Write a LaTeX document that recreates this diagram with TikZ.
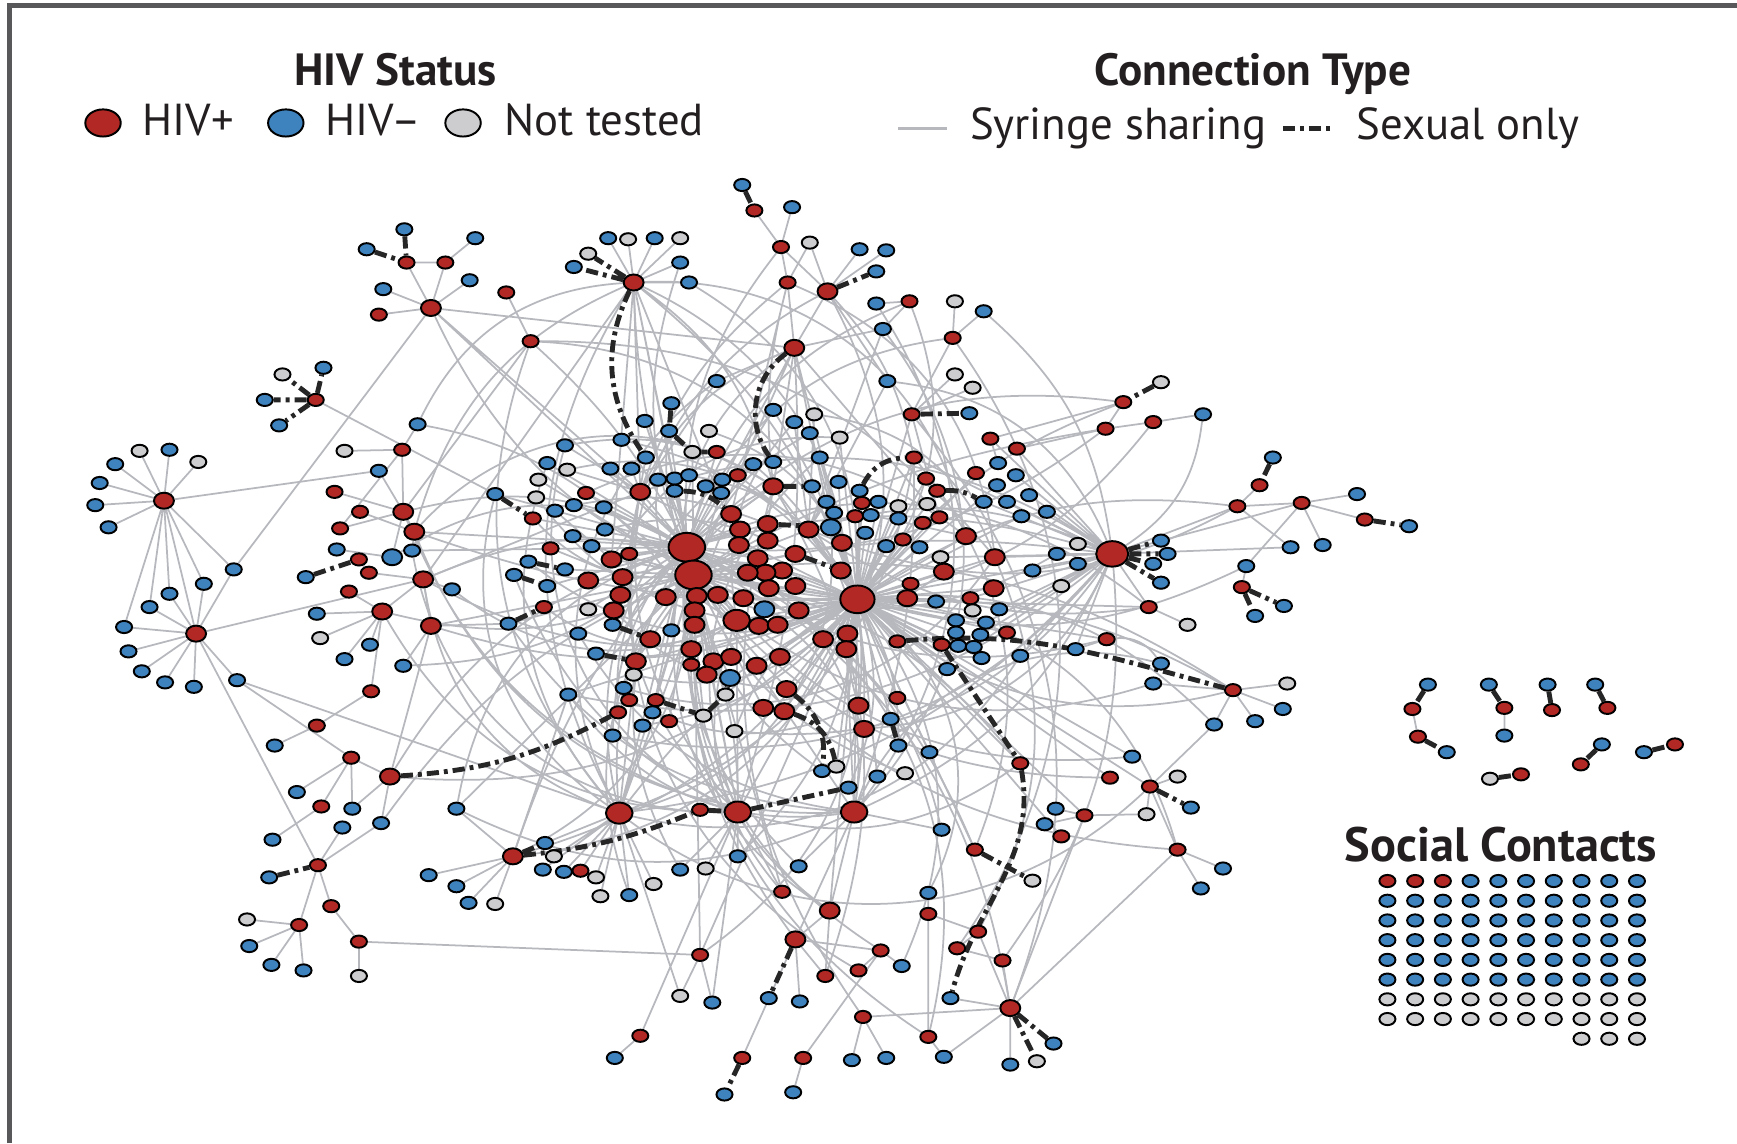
\documentclass[tikz,border=0pt]{standalone}
\usepackage{fontspec}
\setmainfont{PT Sans}
\usetikzlibrary{shapes.geometric}

\definecolor{hivred}{RGB}{178,40,36}
\definecolor{hivblue}{RGB}{62,130,190}
\definecolor{hivgray}{RGB}{205,205,207}
\definecolor{syrgray}{RGB}{182,184,190}
\definecolor{sexblack}{RGB}{38,38,38}
\definecolor{framegray}{RGB}{88,88,90}
\definecolor{inkblack}{RGB}{35,31,32}

\pgfdeclarelayer{edges}
\pgfsetlayers{edges,main}

\begin{document}
\begin{tikzpicture}[x=0.1mm, y=-0.1mm,
  netdot/.style={ellipse, draw=black, line width=0.5pt, inner sep=0pt, minimum width=1.45mm, minimum height=1.1mm},
  hivpos/.style={netdot, fill=hivred},
  hivneg/.style={netdot, fill=hivblue},
  hivunk/.style={netdot, fill=hivgray},
  medhub/.style={minimum width=1.8mm, minimum height=1.45mm},
  bighub/.style={minimum width=2.4mm, minimum height=1.9mm},
  tophub/.style={minimum width=3.3mm, minimum height=2.6mm},
  keydot/.style={minimum width=3.2mm, minimum height=2.45mm},
  syrline/.style={draw=syrgray, line width=0.45pt},
  sexline/.style={draw=sexblack, line width=1.25pt, dash pattern=on 1.1mm off 0.45mm on 0.35mm off 0.45mm},
  keytitle/.style={font=\fontsize{11.6}{13}\selectfont\bfseries, text=inkblack, anchor=base, inner sep=0pt},
  keytext/.style={font=\fontsize{11.5}{13}\selectfont, text=inkblack, anchor=base west, inner sep=0pt}]

\useasboundingbox (0,0) rectangle (1568,1032);
\draw[framegray, line width=0.4mm] (8.7,1032) -- (8.7,5) -- (1568,5);

% legend
\node[keytitle] (hivtitle) at (357,77) {HIV Status};
\node[hivpos, keydot] (keypos) at (93,111) {};
\node[keytext] (keyposlbl) at (128,122) {HIV+};
\node[hivneg, keydot] (keyneg) at (258,111) {};
\node[keytext] (keyneglbl) at (293,122) {HIV–};
\node[hivunk, keydot] (keyunk) at (418,111) {};
\node[keytext] (keyunklbl) at (455,122) {Not tested};
\node[keytitle] (contitle) at (1131,77) {Connection Type};
\coordinate (keysyrA) at (811,116);
\coordinate (keysyrB) at (855,116);
\node[keytext] (keysyrlbl) at (875,126) {Syringe sharing};
\coordinate (keysexA) at (1158,116);
\coordinate (keysexB) at (1201,116);
\node[keytext] (keysexlbl) at (1224,126) {Sexual only};

% top clusters
\node[hivneg] (t1) at (670,167) {};
\node[hivpos] (t2) at (681,190) {};
\node[hivneg] (t3) at (715,187) {};
\node[hivpos] (t4) at (705,223) {};
\node[hivunk] (t5) at (731,219) {};
\node[hivpos] (t6) at (711,255) {};
\node[hivpos, medhub] (t7) at (747,263) {};
\node[hivneg] (t8) at (776,225) {};
\node[hivneg] (t9) at (800,226) {};
\node[hivneg] (t10) at (791,245) {};
\node[hivneg] (t11) at (791,274) {};
\node[hivpos] (t12) at (821,272) {};
\node[hivunk] (t13) at (862,272) {};
\node[hivneg] (t14) at (888,281) {};
\node[hivneg] (t15) at (797,297) {};
\node[hivpos] (t16) at (860,305) {};
\node[hivpos, medhub] (t17) at (717,314) {};
\node[hivneg] (t18) at (647,344) {};
\node[hivneg] (t19) at (801,344) {};
\node[hivunk] (t20) at (862,338) {};
\node[hivunk] (t21) at (878,350) {};
\node[hivpos] (t22) at (823,374) {};
\node[hivneg] (t23) at (875,373) {};
\node[hivpos] (t24) at (998,387) {};
\node[hivpos] (t25) at (1014,363) {};
\node[hivunk] (t26) at (1048,345) {};
\node[hivpos] (t27) at (1041,381) {};
\node[hivneg] (t28) at (1086,374) {};

\node[hivpos, medhub] (e0) at (572,255) {};
\node[hivneg] (e1) at (549,215) {};
\node[hivunk] (e2) at (567,216) {};
\node[hivneg] (e3) at (591,215) {};
\node[hivunk] (e4) at (614,215) {};
\node[hivunk] (e5) at (531,229) {};
\node[hivneg] (e6) at (518,241) {};
\node[hivneg] (e7) at (614,237) {};
\node[hivneg] (e8) at (622,255) {};

\node[hivpos, medhub] (a0) at (389,278) {};
\node[hivneg] (a1) at (365,207) {};
\node[hivneg] (a2) at (331,225) {};
\node[hivpos] (a3) at (367,237) {};
\node[hivpos] (a4) at (402,237) {};
\node[hivneg] (a5) at (429,215) {};
\node[hivneg] (a6) at (346,261) {};
\node[hivneg] (a7) at (424,253) {};
\node[hivpos] (a8) at (342,284) {};
\node[hivpos] (a9) at (457,264) {};
\node[hivpos] (a10) at (479,308) {};

\node[hivpos] (b0) at (285,361) {};
\node[hivunk] (b1) at (255,338) {};
\node[hivneg] (b2) at (292,332) {};
\node[hivneg] (b3) at (239,361) {};
\node[hivneg] (b4) at (252,384) {};

% left stars
\node[hivpos, medhub] (c0) at (148,452) {};
\node[hivunk] (c1) at (126,407) {};
\node[hivneg] (c2) at (153,406) {};
\node[hivunk] (c3) at (179,417) {};
\node[hivneg] (c4) at (104,419) {};
\node[hivneg] (c5) at (90,436) {};
\node[hivneg] (c6) at (86,456) {};
\node[hivneg] (c7) at (98,476) {};

\node[hivpos, medhub] (d0) at (177,572) {};
\node[hivneg] (d1) at (112,566) {};
\node[hivneg] (d2) at (116,588) {};
\node[hivneg] (d3) at (128,606) {};
\node[hivneg] (d4) at (149,616) {};
\node[hivneg] (d5) at (175,620) {};
\node[hivneg] (d6) at (135,548) {};
\node[hivneg] (d7) at (153,536) {};
\node[hivneg] (d8) at (184,527) {};
\node[hivneg] (d9) at (211,514) {};
\node[hivneg] (d10) at (214,614) {};

\node[hivneg] (l1) at (377,383) {};
\node[hivunk] (l2) at (311,407) {};
\node[hivpos] (l3) at (363,406) {};
\node[hivneg] (l4) at (342,425) {};
\node[hivpos] (l5) at (302,444) {};
\node[hivpos] (l6) at (325,462) {};
\node[hivpos, medhub] (l7) at (364,462) {};
\node[hivpos, medhub] (l8) at (374,480) {};
\node[hivpos] (l9) at (307,477) {};
\node[hivneg] (l10) at (304,496) {};
\node[hivpos] (l11) at (324,505) {};
\node[hivneg, medhub] (l12) at (354,503) {};
\node[hivneg] (l13) at (372,497) {};
\node[hivpos] (l14) at (333,517) {};
\node[hivneg] (l15) at (276,521) {};
\node[hivpos, medhub] (l16) at (382,523) {};
\node[hivpos] (l17) at (315,534) {};
\node[hivneg] (l18) at (408,532) {};
\node[hivpos, medhub] (l19) at (345,552) {};
\node[hivneg] (l20) at (286,554) {};
\node[hivunk] (l21) at (289,576) {};
\node[hivneg] (l22) at (334,582) {};
\node[hivneg] (l23) at (311,595) {};
\node[hivneg] (l24) at (364,601) {};
\node[hivpos, medhub] (l25) at (389,565) {};
\node[hivpos] (l26) at (335,624) {};

% core, left half
\node[hivneg] (m1) at (510,402) {};
\node[hivneg] (m2) at (494,418) {};
\node[hivunk] (m3) at (512,424) {};
\node[hivunk] (m4) at (486,433) {};
\node[hivunk] (m5) at (484,449) {};
\node[hivneg] (m6) at (447,446) {};
\node[hivneg] (m7) at (501,461) {};
\node[hivneg] (m8) at (518,456) {};
\node[hivpos] (m9) at (481,468) {};
\node[hivneg] (m10) at (517,484) {};
\node[hivpos] (m11) at (497,495) {};
\node[hivneg] (m12) at (477,507) {};
\node[hivneg] (m13) at (510,514) {};
\node[hivneg] (m14) at (464,519) {};
\node[hivneg] (m15) at (494,529) {};
\node[hivpos] (m16) at (491,548) {};
\node[hivneg] (m17) at (459,563) {};
\node[hivunk] (m18) at (531,550) {};
\node[hivneg] (m19) at (522,572) {};
\node[hivneg] (m20) at (513,627) {};
\node[hivneg] (m21) at (545,458) {};
\node[hivneg] (m22) at (546,478) {};
\node[hivneg] (m23) at (534,493) {};
\node[hivpos] (m24) at (529,445) {};
\node[hivneg] (m25) at (551,423) {};
\node[hivneg] (m26) at (570,423) {};
\node[hivneg] (m27) at (561,397) {};
\node[hivneg] (m28) at (582,380) {};
\node[hivneg] (m29) at (606,364) {};
\node[hivneg] (m30) at (604,389) {};
\node[hivneg] (m31) at (583,413) {};
\node[hivunk] (m32) at (640,389) {};
\node[hivunk] (m33) at (625,408) {};
\node[hivpos] (m34) at (647,408) {};
\node[hivpos, medhub] (m35) at (578,444) {};
\node[hivneg] (m36) at (594,433) {};
\node[hivneg] (m37) at (609,432) {};
\node[hivneg] (m38) at (622,429) {};
\node[hivneg] (m39) at (609,443) {};
\node[hivneg] (m40) at (637,439) {};
\node[hivneg] (m41) at (652,433) {};
\node[hivneg] (m42) at (651,445) {};
\node[hivpos] (m43) at (666,429) {};
\node[hivpos] (m44) at (568,500) {};
\node[hivpos, medhub] (m45) at (552,505) {};
\node[hivpos, medhub] (m46) at (531,524) {};
\node[hivpos, medhub] (m47) at (562,521) {};
\node[hivpos, medhub] (m48) at (560,537) {};
\node[hivpos, medhub] (m49) at (554,551) {};
\node[hivpos, medhub] (m50) at (601,539) {};
\node[hivneg] (m51) at (553,564) {};
\node[hivneg] (m52) at (538,590) {};
\node[hivpos, medhub] (m53) at (574,597) {};
\node[hivunk] (m54) at (572,609) {};
\node[hivpos, medhub] (m55) at (587,577) {};
\node[hivneg] (m56) at (606,569) {};
\node[hivneg] (m57) at (563,621) {};
\node[hivpos] (m58) at (568,632) {};
\node[hivpos] (m59) at (592,632) {};
\node[hivpos] (m60) at (558,643) {};
\node[hivneg] (m61) at (589,643) {};
\node[hivneg] (m62) at (580,655) {};
\node[hivpos] (m63) at (604,651) {};
\node[hivneg] (m64) at (553,664) {};

% core, middle
\node[hivneg] (n1) at (698,370) {};
\node[hivneg] (n2) at (717,381) {};
\node[hivunk] (n3) at (735,374) {};
\node[hivneg] (n4) at (731,391) {};
\node[hivunk] (n5) at (758,395) {};
\node[hivneg] (n6) at (680,419) {};
\node[hivneg] (n7) at (698,417) {};
\node[hivneg] (n8) at (740,413) {};
\node[hivpos, medhub] (n9) at (698,439) {};
\node[hivneg] (n10) at (733,439) {};
\node[hivneg] (n11) at (757,435) {};
\node[hivneg] (n12) at (776,443) {};
\node[hivneg] (n13) at (793,453) {};
\node[hivpos] (n14) at (778,454) {};
\node[hivneg] (n15) at (746,453) {};
\node[hivneg] (n16) at (753,463) {};
\node[hivneg, medhub] (n17) at (750,476) {};
\node[hivpos] (n18) at (772,466) {};
\node[hivneg] (n19) at (786,465) {};
\node[hivneg] (n20) at (781,481) {};
\node[hivpos, medhub] (n21) at (660,464) {};
\node[hivpos, medhub] (n22) at (668,478) {};
\node[hivpos, medhub] (n23) at (667,492) {};
\node[hivpos, medhub] (n24) at (693,473) {};
\node[hivpos, medhub] (n25) at (693,488) {};
\node[hivpos, medhub] (n26) at (730,478) {};
\node[hivpos, medhub] (n27) at (760,490) {};
\node[hivpos, medhub] (n28) at (718,500) {};
\node[hivpos, medhub] (n29) at (684,504) {};
\node[hivpos, tophub] (n30) at (620,494) {};
\node[hivpos, tophub] (n31) at (626,519) {};
\node[hivpos, medhub] (n32) at (706,515) {};
\node[hivpos, medhub] (n33) at (691,517) {};
\node[hivpos, medhub] (n34) at (675,517) {};
\node[hivpos, medhub] (n35) at (718,529) {};
\node[hivpos, medhub] (n36) at (694,531) {};
\node[hivpos, medhub] (n37) at (759,515) {};
\node[hivpos, tophub, minimum width=3.1mm, minimum height=2.5mm] (n38) at (774,541) {};
\node[hivpos, medhub] (n39) at (629,538) {};
\node[hivpos, medhub] (n40) at (648,537) {};
\node[hivpos, medhub] (n41) at (671,540) {};
\node[hivneg, medhub] (n42) at (690,550) {};
\node[hivpos, medhub] (n43) at (721,551) {};
\node[hivpos, medhub] (n44) at (627,551) {};
\node[hivpos, medhub] (n45) at (627,564) {};
\node[hivpos, bighub] (n46) at (665,560) {};
\node[hivpos, medhub] (n47) at (685,565) {};
\node[hivpos, medhub] (n48) at (702,564) {};
\node[hivpos, medhub] (n49) at (743,577) {};
\node[hivpos, medhub] (n50) at (765,572) {};
\node[hivpos, medhub] (n51) at (764,586) {};
\node[hivpos, medhub] (n52) at (624,586) {};
\node[hivpos] (n53) at (624,600) {};
\node[hivpos, medhub] (n54) at (644,597) {};
\node[hivpos, medhub] (n55) at (660,593) {};
\node[hivpos, medhub] (n56) at (638,609) {};
\node[hivneg, medhub] (n57) at (659,612) {};
\node[hivpos, medhub] (n58) at (683,601) {};
\node[hivpos, medhub] (n59) at (704,593) {};
\node[hivunk] (n60) at (655,627) {};
\node[hivunk] (n61) at (635,646) {};
\node[hivunk] (n62) at (663,660) {};
\node[hivpos, medhub] (n63) at (710,622) {};
\node[hivpos, medhub] (n64) at (689,639) {};
\node[hivpos, medhub] (n65) at (708,642) {};
\node[hivpos, medhub] (n66) at (775,637) {};
\node[hivpos] (n67) at (810,630) {};
\node[hivpos, medhub] (n68) at (780,658) {};
\node[hivneg] (n69) at (804,649) {};
\node[hivneg] (n70) at (811,673) {};
\node[hivneg] (n71) at (839,679) {};
\node[hivneg] (n72) at (742,696) {};
\node[hivunk] (n73) at (755,692) {};
\node[hivneg] (n74) at (766,711) {};
\node[hivneg] (n75) at (792,701) {};
\node[hivunk] (n76) at (817,698) {};

% core, right half
\node[hivpos] (r1) at (825,413) {};
\node[hivpos] (r2) at (894,396) {};
\node[hivpos] (r3) at (918,405) {};
\node[hivpos] (r4) at (836,432) {};
\node[hivpos] (r5) at (846,443) {};
\node[hivunk] (r6) at (837,455) {};
\node[hivunk] (r7) at (811,457) {};
\node[hivpos] (r8) at (848,467) {};
\node[hivpos] (r9) at (833,472) {};
\node[hivneg] (r10) at (811,468) {};
\node[hivneg] (r11) at (888,453) {};
\node[hivneg] (r12) at (909,453) {};
\node[hivneg] (r13) at (929,447) {};
\node[hivneg] (r14) at (901,418) {};
\node[hivneg] (r15) at (917,429) {};
\node[hivneg] (r16) at (900,438) {};
\node[hivpos] (r17) at (881,427) {};
\node[hivneg] (r18) at (945,462) {};
\node[hivneg] (r19) at (922,466) {};
\node[hivpos, medhub] (r20) at (872,484) {};
\node[hivpos] (r21) at (815,487) {};
\node[hivneg] (r22) at (800,493) {};
\node[hivneg] (r23) at (830,494) {};
\node[hivunk] (r24) at (849,503) {};
\node[hivpos, medhub] (r25) at (898,503) {};
\node[hivpos, medhub] (r26) at (852,516) {};
\node[hivneg] (r27) at (932,515) {};
\node[hivneg] (r28) at (954,500) {};
\node[hivneg] (r29) at (973,509) {};
\node[hivunk] (r30) at (973,491) {};
\node[hivunk] (r31) at (958,529) {};
\node[hivpos, medhub] (r32) at (897,531) {};
\node[hivpos] (r33) at (822,527) {};
\node[hivpos, medhub] (r34) at (819,540) {};
\node[hivneg] (r35) at (845,543) {};
\node[hivpos] (r36) at (876,540) {};
\node[hivunk] (r37) at (878,551) {};
\node[hivneg] (r38) at (902,550) {};
\node[hivneg] (r39) at (863,560) {};
\node[hivneg] (r40) at (890,562) {};
\node[hivneg] (r41) at (863,571) {};
\node[hivneg] (r42) at (885,573) {};
\node[hivpos] (r43) at (909,571) {};
\node[hivpos] (r44) at (850,582) {};
\node[hivneg] (r45) at (865,583) {};
\node[hivneg] (r46) at (879,584) {};
\node[hivneg] (r47) at (886,594) {};
\node[hivneg] (r48) at (921,592) {};
\node[hivneg] (r49) at (855,604) {};
\node[hivneg] (r50) at (971,586) {};
\node[hivpos] (r51) at (810,579) {};
\node[hivpos] (r52) at (921,689) {};

% right side
\node[hivpos, tophub, minimum width=2.9mm, minimum height=2.3mm] (g0) at (1004,500) {};
\node[hivneg] (g1) at (1048,488) {};
\node[hivneg] (g2) at (1054,500) {};
\node[hivneg] (g3) at (1041,509) {};
\node[hivneg] (g4) at (1048,526) {};
\node[hivpos] (g6) at (1117,457) {};
\node[hivpos] (g7) at (1137,438) {};
\node[hivneg] (g8) at (1149,413) {};
\node[hivpos] (g9) at (1175,454) {};
\node[hivneg] (g10) at (1225,446) {};
\node[hivpos] (g11) at (1232,469) {};
\node[hivneg] (g12) at (1272,475) {};
\node[hivneg] (g13) at (1165,494) {};
\node[hivneg] (g14) at (1194,492) {};
\node[hivneg] (g15) at (1125,511) {};
\node[hivpos] (g16) at (1121,530) {};
\node[hivneg] (g17) at (1159,547) {};
\node[hivneg] (g18) at (1133,556) {};
\node[hivpos] (g19) at (1037,548) {};
\node[hivunk] (g20) at (1072,564) {};
\node[hivpos] (g21) at (999,577) {};
\node[hivneg] (g23) at (1048,599) {};
\node[hivneg] (g24) at (1041,617) {};
\node[hivpos] (g25) at (1113,623) {};
\node[hivunk] (g26) at (1162,617) {};
\node[hivneg] (g27) at (1158,640) {};
\node[hivneg] (g28) at (1133,651) {};
\node[hivneg] (g29) at (1096,654) {};
\node[hivneg] (g30) at (1022,683) {};
\node[hivpos] (g31) at (1002,702) {};
\node[hivpos] (g32) at (1038,710) {};
\node[hivunk] (g33) at (1063,701) {};
\node[hivneg] (g34) at (1075,729) {};
\node[hivunk] (g35) at (1035,735) {};
\node[hivpos] (g36) at (979,736) {};
\node[hivpos] (g37) at (958,755) {};
\node[hivpos] (g38) at (1063,767) {};
\node[hivneg] (g39) at (1104,784) {};
\node[hivneg] (g40) at (1084,802) {};
\node[hivneg] (g41) at (953,730) {};
\node[hivneg] (g42) at (943,744) {};

% bottom
\node[hivpos, bighub] (s1) at (559,734) {};
\node[hivpos] (s2) at (632,731) {};
\node[hivpos, bighub] (s3) at (666,733) {};
\node[hivpos, bighub] (s4) at (771,733) {};
\node[hivneg] (s5) at (492,761) {};
\node[hivunk] (s6) at (500,773) {};
\node[hivneg] (s7) at (490,785) {};
\node[hivneg] (s8) at (509,787) {};
\node[hivpos] (s9) at (524,786) {};
\node[hivunk] (s10) at (538,792) {};
\node[hivunk] (s11) at (542,809) {};
\node[hivneg] (s12) at (568,808) {};
\node[hivunk] (s13) at (590,798) {};
\node[hivneg] (s14) at (614,785) {};
\node[hivunk] (s15) at (637,784) {};
\node[hivneg] (s16) at (666,773) {};
\node[hivneg] (s17) at (721,782) {};
\node[hivpos] (s18) at (706,805) {};
\node[hivpos, medhub] (s19) at (749,822) {};
\node[hivpos, medhub] (s20) at (718,848) {};
\node[hivpos] (s21) at (632,862) {};
\node[hivunk] (s22) at (614,899) {};
\node[hivneg] (s23) at (643,905) {};
\node[hivneg] (s24) at (694,901) {};
\node[hivneg] (s25) at (722,904) {};
\node[hivpos] (s26) at (745,881) {};
\node[hivpos] (s27) at (775,876) {};
\node[hivpos] (s28) at (795,858) {};
\node[hivneg] (s29) at (814,872) {};
\node[hivneg] (s30) at (850,749) {};
\node[hivneg] (s31) at (838,806) {};
\node[hivpos] (s32) at (838,825) {};
\node[hivpos] (s33) at (880,767) {};
\node[hivunk] (s34) at (932,795) {};
\node[hivpos] (s35) at (883,841) {};
\node[hivpos] (s36) at (864,856) {};
\node[hivpos] (s37) at (905,867) {};
\node[hivneg] (s38) at (858,901) {};
\node[hivpos, medhub] (s39) at (912,910) {};
\node[hivneg] (s40) at (951,942) {};
\node[hivunk] (s41) at (936,958) {};
\node[hivneg] (s42) at (912,961) {};
\node[hivpos] (s43) at (779,918) {};
\node[hivneg] (s44) at (769,957) {};
\node[hivneg] (s45) at (800,955) {};
\node[hivpos] (s46) at (838,936) {};
\node[hivneg] (s47) at (852,954) {};
\node[hivpos] (s48) at (578,935) {};
\node[hivneg] (s49) at (555,955) {};
\node[hivpos] (s50) at (670,955) {};
\node[hivneg] (s51) at (654,988) {};
\node[hivpos] (s52) at (725,955) {};
\node[hivneg] (s53) at (716,986) {};

% bottom left
\node[hivpos, medhub] (w1) at (463,773) {};
\node[hivneg] (w2) at (387,790) {};
\node[hivneg] (w3) at (412,800) {};
\node[hivneg] (w4) at (423,815) {};
\node[hivunk] (w5) at (447,816) {};
\node[hivneg] (w6) at (412,730) {};
\node[hivpos] (w7) at (286,655) {};
\node[hivneg] (w8) at (248,673) {};
\node[hivpos] (w9) at (317,684) {};
\node[hivpos, medhub] (w10) at (352,701) {};
\node[hivneg] (w11) at (268,715) {};
\node[hivpos] (w12) at (290,728) {};
\node[hivneg] (w13) at (318,730) {};
\node[hivneg] (w14) at (309,747) {};
\node[hivneg] (w15) at (344,743) {};
\node[hivneg] (w16) at (246,758) {};
\node[hivpos] (w17) at (287,781) {};
\node[hivneg] (w18) at (243,792) {};
\node[hivpos] (w19) at (299,818) {};
\node[hivpos] (w20) at (270,835) {};
\node[hivunk] (w21) at (223,830) {};
\node[hivneg] (w22) at (225,854) {};
\node[hivneg] (w23) at (245,871) {};
\node[hivneg] (w24) at (274,876) {};
\node[hivpos] (w25) at (324,850) {};
\node[hivunk] (w26) at (324,881) {};

% pairs outside the main component
\node[hivneg] (q1) at (1289,618) {};
\node[hivpos] (q2) at (1275,640) {};
\node[hivpos] (q3) at (1280,665) {};
\node[hivneg] (q4) at (1306,679) {};
\node[hivneg] (q5) at (1344,618) {};
\node[hivpos] (q6) at (1358,639) {};
\node[hivneg] (q7) at (1358,664) {};
\node[hivneg] (q8) at (1397,618) {};
\node[hivpos] (q9) at (1401,641) {};
\node[hivneg] (q10) at (1440,618) {};
\node[hivpos] (q11) at (1451,639) {};
\node[hivneg] (q12) at (1446,672) {};
\node[hivpos] (q13) at (1427,690) {};
\node[hivneg] (q14) at (1484,679) {};
\node[hivpos] (q15) at (1512,672) {};
\node[hivunk] (q16) at (1345,703) {};
\node[hivpos] (q17) at (1373,699) {};

% social contacts block
\node[keytitle, font=\fontsize{12.4}{14}\selectfont\bfseries] (soctitle) at (1355,778) {Social Contacts};
\foreach \c in {1,2,3} \node[hivpos] (soc-1-\c) at ({1227.4+25.03*\c},795.3) {};
\foreach \c in {4,...,10} \node[hivneg] (soc-1-\c) at ({1227.4+25.03*\c},795.3) {};
\foreach \r in {2,...,6} \foreach \c in {1,...,10}
  \node[hivneg] (soc-\r-\c) at ({1227.4+25.03*\c},{777.5+17.8*\r}) {};
\foreach \r in {7,8} \foreach \c in {1,...,10}
  \node[hivunk] (soc-\r-\c) at ({1227.4+25.03*\c},{777.5+17.8*\r}) {};
\foreach \c in {8,9,10} \node[hivunk] (soc-9-\c) at ({1227.4+25.03*\c},937.7) {};

\begin{pgfonlayer}{edges}
\draw[syrline, line width=0.7pt] (keysyrA) -- (keysyrB);
\draw[sexline] (keysexA) -- (keysexB);

% syringe sharing: outer clusters
\draw[syrline] (t2)--(t4) (t3)--(t4) (t4)--(t6) (t4)--(t7) (t5)--(t6) (t5)--(t7) (t7)--(t8) (t7)--(t9)
  (t7)--(t17) (t6)--(t17) (t11)--(t12) (t12)--(t15) (t15)--(t17) (t13)--(t16) (t14)--(t16) (t16)--(t22)
  (t20)--(t22) (t21)--(t22) (t19)--(t7) (t18)--(t17) (t24)--(t25) (t24)--(t27) (t27)--(t28);
\draw[syrline] (e0)--(e1) (e0)--(e2) (e0)--(e3) (e0)--(e4) (e0)--(e7) (e0)--(e8);
\draw[syrline] (a3)--(a4) (a4)--(a5) (a3)--(a0) (a4)--(a0) (a0)--(a6) (a0)--(a8) (a0)--(a7) (a0)--(d9)
  (a9)--(a10) (a10)--(l7);
\draw[syrline] (c0)--(c1) (c0)--(c2) (c0)--(c3) (c0)--(c4) (c0)--(c5) (c0)--(c6) (c0)--(c7) (c0)--(l4)
  (c0)--(d1) (c0)--(d6) (c0)--(d7) (c0)--(d0) (c0)--(d8) (c0)--(d9);
\draw[syrline] (d0)--(d1) (d0)--(d2) (d0)--(d3) (d0)--(d4) (d0)--(d5) (d0)--(d6) (d0)--(d7) (d0)--(d8)
  (d0)--(d9) (d0)--(d10) (d0)--(l16) (d0)--(w17) (d10)--(s1) (d10)--(w9);
\draw[syrline] (l2)--(l3) (l1)--(l3) (l3)--(l7) (l3)--(l9) (l4)--(l7) (l5)--(l7) (l6)--(l8) (l7)--(l8)
  (l9)--(l7) (l10)--(l12) (l12)--(l7) (l13)--(l8) (l11)--(l14) (l14)--(l16) (l17)--(l19) (l16)--(l19)
  (l18)--(l16) (l19)--(l20) (l19)--(l21) (l19)--(l22) (l19)--(l23) (l25)--(l24) (l25)--(m17) (l19)--(l26)
  (l26)--(w7) (w7)--(w8) (l16)--(l25) (l16)--(m35) (l25)--(n31) (l13)--(n30) (l8)--(n30) (b0)--(m6);
\draw[syrline] (w9)--(w10) (w9)--(w11) (w9)--(w12) (w9)--(w13) (w10)--(w13) (w10)--(w15) (w12)--(w16)
  (w15)--(w17) (w14)--(w17) (w17)--(w19) (w17)--(w20) (w19)--(w25) (w20)--(w21) (w20)--(w22) (w20)--(w23)
  (w20)--(w24) (w25)--(w26) (w25)--(s21) (w10)--(l25) (w1)--(w2) (w1)--(w3) (w1)--(w4) (w1)--(w5)
  (w6)--(w1) (w1)--(m20) (w6)--(n31);
\draw[syrline] (s1)--(s5) (s1)--(s6) (s1)--(s7) (s1)--(s8) (s1)--(s9) (s1)--(s10) (s1)--(s11) (s1)--(s12)
  (s1)--(s13) (s3)--(s14) (s3)--(s15) (s3)--(s16) (s4)--(s17) (s3)--(s18) (s19)--(s4) (s20)--(s4)
  (s21)--(s22) (s21)--(s23) (s20)--(s25) (s20)--(s19) (s20)--(s28) (s20)--(s26) (s27)--(s28) (s28)--(s29)
  (s26)--(s19) (s39)--(s42) (s39)--(s43) (s39)--(s38) (s39)--(s47) (s39)--(g38) (s39)--(s35) (s39)--(s37)
  (s39)--(g36) (s43)--(s44) (s43)--(s45) (s46)--(s47) (s46)--(s32) (s48)--(s49) (s48)--(s3) (s50)--(s20)
  (s52)--(s53) (s52)--(s28) (s30)--(s4) (s31)--(s32) (s32)--(s35) (s35)--(s36) (s36)--(s37) (s22)--(s1)
  (s23)--(s3) (s18)--(n31) (s19)--(n38) (s21)--(n31) (s21)--(n38) (s33)--(n38);
\draw[syrline] (g7)--(g6) (g6)--(g9) (g9)--(g10) (g9)--(g11) (g9)--(g14) (g6)--(g13) (g6)--(g0) (g9)--(g0)
  (g9)--(g15) (g15)--(g16) (g13)--(g0) (g19)--(g20) (g19)--(g0) (g21)--(r50) (g19)--(n38) (g24)--(g25)
  (g25)--(g26) (g25)--(g27) (g25)--(g28) (g25)--(g29) (g29)--(g32) (g32)--(g33) (g32)--(g38) (g32)--(g35)
  (g32)--(n38) (g31)--(n38) (g30)--(n38) (g36)--(g35) (g38)--(g39) (g38)--(g40) (g41)--(g36) (g42)--(g36)
  (g37)--(n38) (g36)--(n38) (g21)--(n38) (g21) to[bend left=30] (g23) (t24)--(r3) (t25)--(r2);
\draw[syrline] (q2)--(q3) (q6)--(q7);

% syringe sharing: long links into the core
\draw[syrline] (t6) to[bend right=10] (n9) (t7) to[bend left=15] (r1) (t15)--(n26) (t19)--(n26) (t18)--(m35)
  (t17)--(n9) (t17)--(n24) (t17)--(n30) (t17)--(n38) (t17)--(n17) (t17)--(n31) (t17)--(r8)
  (t17) to[bend left=10] (s3) (t17) to[bend right=20] (m35) (t6)--(n21) (t6) to[bend right=15] (m35)
  (t25) to[bend right=15] (n38) (t24) to[bend right=10] (n31) (t22)--(n38) (t22)--(r8)
  (e0)--(n30) (e0)--(n31) (e0)--(m35) (e0) to[bend left=20] (n9) (e0) to[bend right=30] (s1) (e0)--(m45)
  (e0)--(n23) (e0)--(l16) (e0) to[bend left=15] (n38) (a0)--(n30) (a0)--(t17) (a0)--(m35)
  (a10) to[bend left=10] (n30) (l1) to[bend left=30] (e0) (l7) to[bend left=20] (n30)
  (l16) to[bend left=15] (n30) (l8) to[bend left=25] (e0) (l8) to[bend right=10] (n38)
  (l19) to[bend right=20] (n31) (w1) to[bend left=10] (n30) (w1) to[bend right=20] (n38)
  (s1)--(n30) (s1)--(n31) (s1)--(m53) (s1)--(n44) (s3)--(n38) (s3)--(n30) (s3)--(n46) (s3)--(n31)
  (s4)--(n38) (s4) to[bend right=10] (r1) (s4)--(n51) (s4) to[bend right=20] (g0) (s1) to[bend left=10] (n38)
  (s4)--(n31) (g6) to[bend right=20] (n38) (g25) to[bend right=15] (n38) (g0)--(n38)
  (g0) to[bend right=15] (n30) (g0)--(r25) (g0) to[bend right=10] (n31) (g0)--(r1) (g0) to[bend right=20] (n26);
\draw[syrline] (n30) to[bend left=40] (s4) (n31) to[bend right=35] (r26) (m35) to[bend right=30] (s3)
  (e0) to[bend left=35] (n51) (t17) to[bend right=35] (n45) (n9) to[bend right=30] (s1)
  (t7) to[bend left=25] (n51) (a10) to[bend left=35] (n38) (l7) to[bend right=25] (s3)
  (l16) to[bend right=25] (n38) (n38) to[bend left=30] (w1) (t12) to[bend left=30] (n38)
  (r1) to[bend left=30] (s1) (g0) to[bend left=20] (s1) (g0) to[bend right=25] (m35)
  (t25) to[bend right=25] (n30) (e0) to[bend left=40] (r20) (a0) to[bend right=30] (n38)
  (l8) to[bend right=35] (s4) (w10) to[bend right=25] (n38) (s39) to[bend right=25] (n30)
  (g38) to[bend left=25] (n31) (g25) to[bend right=20] (n31) (s21) to[bend right=30] (n38)
  (s27) to[bend left=35] (m35) (s43) to[bend left=25] (n9) (t22) to[bend left=30] (s39)
  (r52) to[bend right=20] (n31) (m20) to[bend right=25] (g0) (n17) to[bend left=40] (s1)
  (t16) to[bend left=35] (s36) (t7) to[bend right=35] (m53) (t14) to[bend left=20] (g0)
  (l25) to[bend right=20] (n38) (m17) to[bend right=25] (s4) (w6) to[bend right=25] (s4)
  (n21) to[bend right=40] (s19) (n43) to[bend left=30] (s46) (r28) to[bend left=30] (n30)
  (g21) to[bend left=25] (n30) (g19) to[bend right=30] (n30) (s33) to[bend right=20] (n30);
\draw[syrline] (l1) to[bend left=40] (s3) (a10) to[bend left=25] (r25) (t18) to[bend right=40] (s1)
  (t11) to[bend left=35] (s4) (t19) to[bend left=30] (g0) (m1) to[bend right=40] (s3)
  (m6) to[bend right=35] (s1) (l13) to[bend right=40] (s3) (l18) to[bend right=30] (n46)
  (w6) to[bend left=30] (n30) (s14) to[bend left=30] (n30) (s16) to[bend right=20] (n38)
  (s17) to[bend left=25] (n30) (s12) to[bend left=30] (n31) (s30) to[bend right=30] (n31)
  (s31) to[bend right=40] (n38) (s33) to[bend right=30] (r1) (s35) to[bend right=25] (r25)
  (s37) to[bend right=20] (g0) (s46) to[bend left=30] (n30) (s28) to[bend left=30] (n31)
  (s29) to[bend right=30] (n38) (s26) to[bend right=25] (n9) (s20) to[bend left=20] (n31)
  (s19) to[bend left=35] (n30) (s18) to[bend left=30] (n46) (g38) to[bend right=35] (n38)
  (g32) to[bend left=40] (s1) (g31) to[bend left=25] (n31) (g30) to[bend left=30] (n30)
  (g25) to[bend left=35] (n26) (g29) to[bend right=25] (n38) (g24) to[bend left=30] (n31)
  (g23) to[bend right=40] (s4) (g19) to[bend left=20] (n26) (g15) to[bend left=20] (n38)
  (g6) to[bend left=25] (n26) (t27) to[bend left=20] (n38) (t24) to[bend left=20] (n30)
  (t28) to[bend left=25] (g0) (r52) to[bend left=25] (s3) (r48) to[bend left=35] (s1)
  (t16) to[bend right=30] (n30) (t12) to[bend right=25] (n30) (t15) to[bend left=40] (s4)
  (t4) to[bend right=20] (n30) (t6) to[bend left=30] (r25) (e8) to[bend left=30] (n38)
  (e7) to[bend right=20] (n31) (e0) to[bend right=15] (n46) (a10) to[bend right=30] (s1)
  (l8) to[bend left=40] (n9) (l12) to[bend left=30] (n30) (l16) to[bend right=30] (s1)
  (l19) to[bend right=30] (s3) (l24) to[bend right=20] (n30) (w10) to[bend left=20] (n30)
  (w1) to[bend right=30] (n31) (w15) to[bend left=15] (n31) (m20) to[bend right=30] (s4)
  (m64) to[bend right=30] (g0) (m57) to[bend right=35] (r25) (n62) to[bend right=30] (g0)
  (n68) to[bend right=30] (g0);

% syringe sharing: inside the core
\draw[syrline] (n1)--(n30) (n1) to[bend left=20] (s4) (n2)--(n26) (n2) to[bend right=25] (n46)
  (n3)--(n26) (n3) to[bend left=30] (r25) (n4)--(n38) (n4) to[bend right=20] (n31) (n5)--(n38)
  (n5) to[bend right=30] (m45) (n6)--(n30) (n6) to[bend left=25] (n66) (n8)--(n38) (n8) to[bend right=35] (s3)
  (n11)--(n27) (n12)--(n38) (n13)--(n38) (n14)--(n38) (n15)--(n26) (n16)--(n27) (n17)--(n38) (n18)--(n38)
  (n19)--(r20) (n20)--(n38) (n21)--(n30) (n22)--(n30) (n23)--(n31) (n24)--(n30) (n25)--(n31) (n26)--(n31)
  (n27)--(n38) (n28)--(n31) (n29)--(n30) (n32)--(n38) (n33)--(n31) (n34)--(n30) (n35)--(n38) (n36)--(n31)
  (n37)--(n38) (n39)--(n31) (n40)--(n31) (n41)--(n31) (n42)--(n38) (n43)--(n38) (n44)--(n31) (n45)--(n30)
  (n46)--(n31) (n47)--(n38) (n48)--(n38) (n49)--(n38) (n50)--(n38) (n51)--(n38) (n52)--(n31) (n53)--(n30)
  (n54)--(n31) (n55)--(n38) (n56)--(n31) (n57)--(n38) (n58)--(n38) (n59)--(n38) (n60)--(n31) (n61)--(n30)
  (n62) to[bend left=20] (n38) (n63)--(n38) (n64)--(n31) (n65)--(n38) (n66) to[bend left=15] (n38)
  (n67)--(n38) (n68) to[bend right=20] (n31) (n69)--(n38) (n70) to[bend right=15] (n38) (n71)--(n38)
  (n72) to[bend left=20] (n31) (n73)--(n38) (n74) to[bend right=20] (n38) (n75)--(n38) (n76) to[bend left=25] (n30)
  (n30)--(n38) (n31)--(n38) (n9)--(n30) (n9)--(n38) (n26)--(n38) (n46)--(n38);
\draw[syrline] (m1) to[bend left=20] (n9) (m1)--(m35) (m2)--(n30) (m2) to[bend right=30] (s1)
  (m3)--(m35) (m3) to[bend left=25] (n26) (m4)--(n31) (m5) to[bend right=20] (n46) (m6)--(n30)
  (m7)--(m45) (m8) to[bend left=15] (n24) (m9) to[bend right=25] (n31) (m10)--(n30) (m11)--(m47)
  (m12) to[bend right=30] (n38) (m13)--(n31) (m14) to[bend right=20] (s3) (m15)--(n30)
  (m16) to[bend right=30] (n46) (m17)--(n31) (m18)--(n30) (m19) to[bend right=25] (s4) (m20)--(n38)
  (m21)--(n30) (m22) to[bend left=20] (n28) (m23)--(n31) (m24) to[bend left=30] (r20) (m25)--(n30)
  (m26)--(m35) (m27) to[bend left=20] (n38) (m28)--(n30) (m29) to[bend right=15] (n31) (m30)--(n30)
  (m31) to[bend right=25] (s3) (m32) to[bend left=20] (n27) (m33)--(n31) (m34)--(n30) (m35)--(n30)
  (m36) to[bend right=35] (n46) (m37)--(n31) (m38) to[bend left=25] (n38) (m39)--(n31) (m40)--(n30)
  (m41) to[bend right=30] (s1) (m42)--(n31) (m43)--(n26) (m44)--(n30) (m45)--(n30) (m46)--(n31)
  (m47) to[bend left=20] (n38) (m48)--(n31) (m49) to[bend right=20] (n63) (m50)--(n31) (m51)--(n30)
  (m52) to[bend right=20] (n46) (m53)--(n31) (m54) to[bend right=30] (n38) (m55)--(n31) (m56)--(n30)
  (m57) to[bend left=20] (n31) (m58) to[bend right=25] (n66) (m59)--(n31) (m60) to[bend left=25] (n30)
  (m61)--(n30) (m62) to[bend right=20] (n38) (m63)--(n31) (m64) to[bend left=30] (n9)
  (m35)--(n38) (m45)--(n38) (m50)--(n38) (m9)--(n30) (m24)--(n30) (m21)--(n31);
\draw[syrline] (r1)--(n38) (r2)--(g0) (r3)--(g0) (r4)--(n38) (r5)--(n38) (r6)--(n38) (r7)--(n38) (r8)--(n38)
  (r9)--(n38) (r10)--(n38) (r11)--(g0) (r12)--(g0) (r13)--(g0) (r14)--(r2) (r15)--(g0) (r16)--(n38)
  (r17)--(n38) (r18)--(g0) (r19)--(n38) (r20)--(n38) (r21)--(n38) (r22)--(n38) (r23)--(n38) (r24)--(g0)
  (r25)--(n38) (r26)--(n38) (r27)--(g0) (r28)--(g0) (r29)--(g0) (r30)--(g0) (r31)--(g0) (r32)--(n38)
  (r33)--(n38) (r34)--(n38) (r35)--(n38) (r36)--(g0) (r37)--(n38) (r38)--(g0) (r39)--(n38) (r40)--(g0)
  (r41)--(n38) (r42)--(g0) (r43)--(n38) (r44)--(n38) (r45)--(n38) (r46)--(g0) (r47)--(n38) (r48)--(g0)
  (r49)--(n38) (r50)--(g0) (r51)--(n38) (r52)--(n38);

% sexual contact only
\draw[sexline] (t1)--(t2) (t7)--(t10) (t22)--(t23) (t26)--(t25) (e0)--(e5) (e0)--(e6)
  (e0) to[bend right=30] (m31) (t17) to[bend right=45] (n7) (a1)--(a3) (a2)--(a3)
  (b0)--(b1) (b0)--(b2) (b0)--(b3) (b0)--(b4) (l15)--(l11);
\draw[sexline] (m29)--(m30) (m30)--(m33) (m33)--(m34) (m6)--(m9) (m14)--(m15) (m17)--(m16) (m12)--(m13)
  (m39) to[bend left=20] (n21) (m51)--(m55) (m52)--(m53) (m59)--(n61) (n61)--(n60) (n60)--(n57)
  (n9)--(n10) (n24)--(n17) (n28)--(n37) (n12) to[bend left=30] (r1) (r5) to[bend left=15] (r11)
  (n63) to[bend left=30] (n72) (n65) to[bend left=30] (n73) (n69)--(n70);
\draw[sexline] (r51) to[out=5,in=165] (g25) (r44)--(r52) (r52) to[out=-80,in=75] (s38)
  (s33)--(s34) (s20)--(s24) (s50)--(s51) (s39)--(s40) (s39)--(s41)
  (w1)--(s5) (w1) to[bend right=8] (s2) (s2)--(s3) (s3)--(n74) (w10) to[bend right=12] (m60) (w18)--(w17)
  (g8)--(g7) (g11)--(g12) (g16)--(g17) (g16)--(g18) (g0)--(g1) (g0)--(g2) (g0)--(g3) (g0)--(g4) (g32)--(g34);
\draw[sexline] (q1)--(q2) (q3)--(q4) (q5)--(q6) (q8)--(q9) (q10)--(q11) (q12)--(q13) (q14)--(q15) (q16)--(q17);
\end{pgfonlayer}
\end{tikzpicture}
\end{document}
